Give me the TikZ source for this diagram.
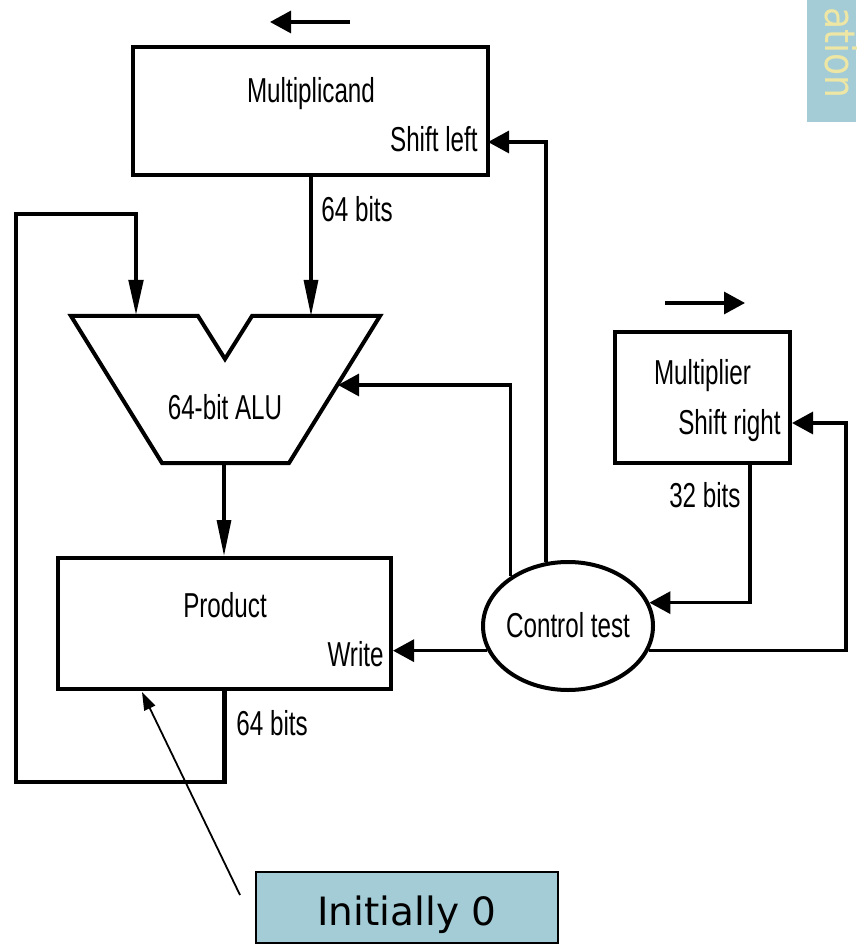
\documentclass[tikz,border=0pt]{standalone}
\usepackage{fontspec}
\setmainfont{Liberation Sans}[FakeStretch=0.70]
\newfontfamily\notefont{DejaVu Sans}
\newfontfamily\tabfont{DejaVu Sans}[FakeStretch=0.86]
\usetikzlibrary{arrows.meta,shapes.geometric}
\definecolor{tabblue}{HTML}{A4CCD6}
\definecolor{tabyellow}{HTML}{EDE6A4}

\begin{document}
\begin{tikzpicture}
  [x=0.5pt, y=-0.5pt,
    every node/.style={inner sep=0pt, font=\fontsize{17.3}{20}\selectfont},
    reg/.style={draw, line width=2pt, rectangle},
    sig/.style={line width=1.6pt, -{Triangle[length=10.5pt,width=11pt]}},
    vsig/.style={line width=1.6pt, -{Triangle[length=18pt,width=7pt]}},
    bus/.style={line width=2.4pt, -{Triangle[length=18pt,width=7pt]}},
    note/.style={draw, line width=1pt, fill=tabblue, font=\notefont\fontsize{19.5}{22}\selectfont},
]
  \useasboundingbox (0,0) rectangle (856,945);

  % side tab
  \begin{scope}
    \clip (807,0) rectangle (856,122);
    \fill[tabblue] (807,0) rectangle (856,122);
    \node[rotate=-90, anchor=base west, text=tabyellow,
      font=\tabfont\fontsize{21}{24}\selectfont] (tab) at (825,7) {ation};
  \end{scope}

  % registers
  \node[reg, minimum width=177.5pt, minimum height=64pt] (mcand) at (310.5,111) {};
  \node[anchor=base] (mcand-t) at (311,103) {Multiplicand};
  \node[anchor=base east] (mcand-s) at (478,152) {Shift left};

  \node[reg, minimum width=87.5pt, minimum height=65.5pt] (mplier) at (702.5,397.5) {};
  \node[anchor=base] (mplier-t) at (702.5,385) {Multiplier};
  \node[anchor=base east] (mplier-s) at (781,435) {Shift right};

  \node[reg, minimum width=166.5pt, minimum height=65.5pt] (prod) at (224.5,623.5) {};
  \node[anchor=base] (prod-t) at (225,617) {Product};
  \node[anchor=base east] (prod-w) at (384,666) {Write};

  \node[draw, ellipse, line width=2pt, minimum width=85pt, minimum height=64pt] (ctrl) at (568,626) {};
  \node[anchor=base] (ctrl-t) at (568,637) {Control test};

  % ALU
  \draw[line width=2pt, line join=miter] (71,316) -- (198,316) -- (225,359) -- (252,316)
    -- (380,316) -- (289,463) -- (162,463) -- cycle;
  \node[anchor=base] (alu-t) at (225,420) {64-bit ALU};
  \coordinate (alu-a) at (136,316);
  \coordinate (alu-b) at (311,316);
  \coordinate (alu-c) at (338,385);
  \coordinate (alu-o) at (224,463);

  % shift directions
  \coordinate (ls-from) at (350,22);
  \coordinate (ls-to) at (270,22);
  \draw[sig] (ls-from) -- (ls-to);
  \coordinate (rs-from) at (665,303);
  \coordinate (rs-to) at (745,303);
  \draw[sig] (rs-from) -- (rs-to);

  % datapath
  \draw[vsig] (mcand.south -| alu-b) -- (alu-b);
  \node[anchor=base west] (w64a) at (321,222) {64 bits};
  \draw[vsig] (alu-o) -- (prod.north -| alu-o);
  \draw[bus] (prod.south) |- (16,782) -- (16,214) -| (alu-a);
  \node[anchor=base west] (w64b) at (236,735) {64 bits};
  \coordinate (m32) at (750,463);
  \draw[sig] (m32) |- (ctrl.16);
  \node[anchor=base east] (w32) at (741,507) {32 bits};

  % control lines
  \coordinate (sl) at (488,142);
  \draw[sig] (ctrl.109) |- (sl);
  \draw[sig] (ctrl.139) |- (alu-c);
  \draw[sig] (ctrl.197) -- (ctrl.197 -| prod.east);
  \coordinate (rloop) at (846,423);
  \draw[sig] (ctrl.343) -| (rloop) -- (rloop -| mplier.east);

  % note
  \node[note, minimum width=151pt, minimum height=35.5pt] (init) at (407,907.5) {};
  \node[anchor=base, font=\notefont\fontsize{19.5}{22}\selectfont] (init-t) at (407,925) {Initially 0};
  \coordinate (init-tail) at (240,895);
  \draw[line width=0.9pt, -{Triangle[length=9pt,width=6pt]}] (init-tail) -- (142,692);
\end{tikzpicture}
\end{document}
